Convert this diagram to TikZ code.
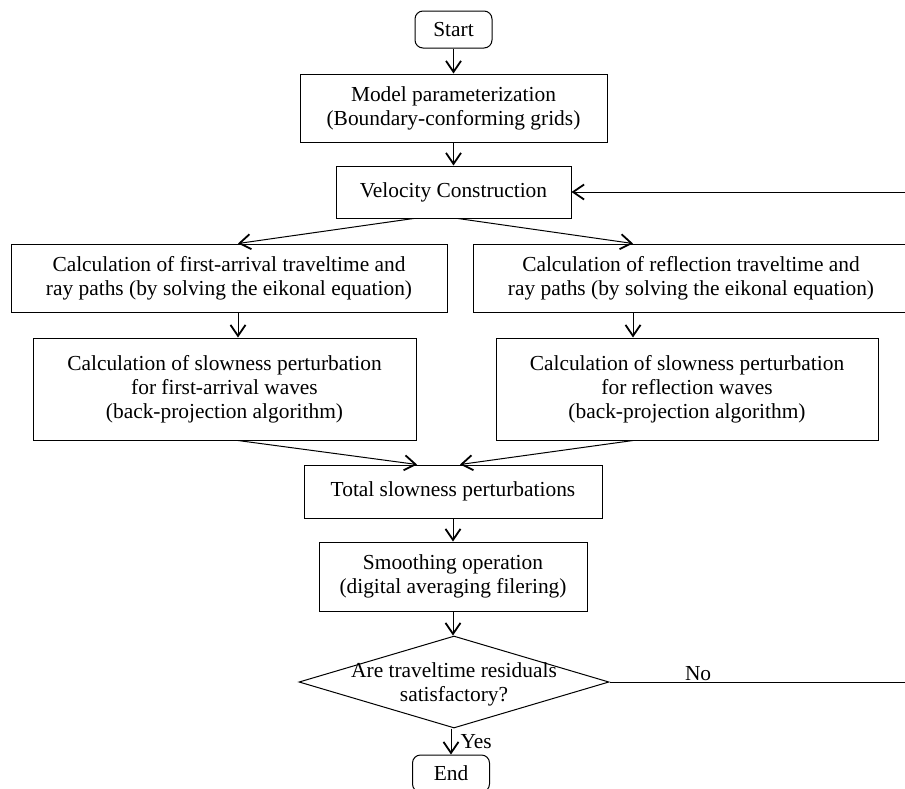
\documentclass[tikz,border=0pt]{standalone}
\usepackage{fontspec}
\setmainfont{Liberation Serif}
\usetikzlibrary{shapes.geometric,arrows.meta}
\newcommand{\chartfont}{\fontsize{21.4}{24}\selectfont}
\tikzset{
  procbox/.style={draw, line width=1pt, align=center, inner sep=2pt, font=\chartfont},
  termbox/.style={procbox, rounded corners=8pt, minimum width=77pt, minimum height=37pt},
  decbox/.style={draw, line width=1pt, diamond, minimum width=310pt, minimum height=92pt, inner sep=0pt},
  flow/.style={->, line width=1pt},
  tag/.style={font=\chartfont, inner sep=1pt},
}

\begin{document}
\begin{tikzpicture}[x=1pt, y=-1pt, >={Straight Barb[length=11pt,width=15pt,line width=1.8pt]}]
  \useasboundingbox (0,0) rectangle (905,788);
  \clip (0,0) rectangle (905,788);
  \node[termbox] (start) at (453.5,29.5) {Start};
  \node[procbox, minimum width=307pt, minimum height=68pt] (model) at (453.5,108) {Model parameterization\\(Boundary-conforming grids)};
  \node[procbox, minimum width=235pt, minimum height=52pt] (vel) at (453.5,192) {Velocity Construction};
  \node[procbox, minimum width=436pt, minimum height=68pt] (calcfirst) at (229,278) {Calculation of first-arrival traveltime and\\ray paths (by solving the eikonal equation)};
  \node[procbox, minimum width=436pt, minimum height=68pt] (calcrefl) at (691,278) {Calculation of reflection traveltime and\\ray paths (by solving the eikonal equation)};
  \node[procbox, minimum width=383pt, minimum height=102pt] (slowfirst) at (224.5,389) {Calculation of slowness perturbation\\for first-arrival waves\\(back-projection algorithm)};
  \node[procbox, minimum width=382pt, minimum height=102pt] (slowrefl) at (687,389) {Calculation of slowness perturbation\\for reflection waves\\(back-projection algorithm)};
  \node[procbox, minimum width=298pt, minimum height=53pt] (total) at (453,491.5) {Total slowness perturbations};
  \node[procbox, minimum width=268pt, minimum height=69pt] (smooth) at (453,576.5) {Smoothing operation\\(digital averaging filering)};
  \node[decbox] (dec) at (454,682) {};
  \node[tag, align=center] (dectext) at (454,684) {Are traveltime residuals\\satisfactory?};
  \node[termbox] (end) at (451,773.5) {End};
  \coordinate (loopx) at (915,0);

  \draw[flow] (start) -- (model);
  \draw[flow] (model) -- (vel);
  \draw[flow] ([xshift=-40pt]vel.south) -- ([xshift=9pt]calcfirst.north);
  \draw[flow] ([xshift=4.5pt]vel.south) -- ([xshift=-58pt]calcrefl.north);
  \draw[flow] ([xshift=9pt]calcfirst.south) -- ([xshift=9pt]calcfirst.south |- slowfirst.north);
  \draw[flow] ([xshift=-58pt]calcrefl.south) -- ([xshift=-58pt]calcrefl.south |- slowrefl.north);
  \draw[flow] ([xshift=13.5pt]slowfirst.south) -- ([xshift=-36pt]total.north);
  \draw[flow] ([xshift=-54pt]slowrefl.south) -- ([xshift=7pt]total.north);
  \draw[flow] (total) -- (smooth);
  \draw[flow] (smooth.south) -- (smooth.south |- dec.north);
  \draw[flow] (end.north |- dec.south) -- node[tag, right=8pt] {Yes} (end.north);
  \draw[flow] (dec.east) -- node[tag, above, pos=0.29] {No} (dec.east -| loopx) |- (vel.east);
\end{tikzpicture}
\end{document}
